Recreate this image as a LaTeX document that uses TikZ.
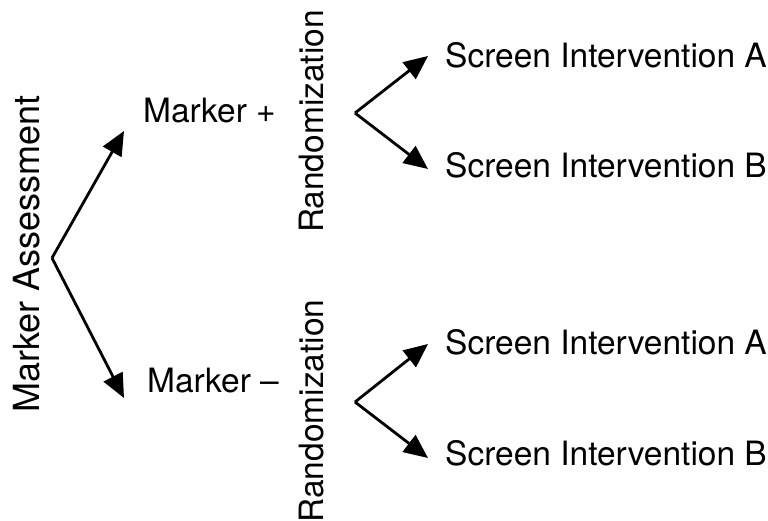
\documentclass[tikz,border=0pt]{standalone}
\usepackage{fontspec}
\setmainfont{TeX Gyre Heros}
\usetikzlibrary{arrows.meta}
\begin{document}
\begin{tikzpicture}[x=1pt,y=-1pt,
  lbl/.style={inner sep=0pt,font=\fontsize{33.5}{40}\selectfont},
  vlbl/.style={lbl,rotate=90,anchor=base},
  hlbl/.style={lbl,anchor=base west},
  arr/.style={line width=2.8pt,-{Triangle[length=24pt,width=21pt]}}]
\useasboundingbox (0,0) rectangle (768,521);
\node[vlbl,font=\fontsize{36}{42}\selectfont] (ma) at (39,254) {Marker Assessment};
\node[hlbl] (mp) at (143,123) {Marker +};
\node[hlbl] (mm) at (147,392) {Marker –};
\node[vlbl] (r1) at (323,121.5) {Randomization};
\node[vlbl] (r2) at (323,411) {Randomization};
\node[hlbl] (sa1) at (445,68) {Screen Intervention A};
\node[hlbl] (sb1) at (445,178) {Screen Intervention B};
\node[hlbl] (sa2) at (445,354) {Screen Intervention A};
\node[hlbl] (sb2) at (445,465) {Screen Intervention B};
\coordinate (v1) at (52,258);
\coordinate (t1) at (124,131);
\coordinate (t2) at (124,398);
\coordinate (v2) at (355,113);
\coordinate (t3) at (428,56);
\coordinate (t4) at (428,169);
\coordinate (v3) at (355,402);
\coordinate (t5) at (428,344);
\coordinate (t6) at (428,458);
\draw[arr] (v1) -- (t1);
\draw[arr] (v1) -- (t2);
\draw[arr] (v2) -- (t3);
\draw[arr] (v2) -- (t4);
\draw[arr] (v3) -- (t5);
\draw[arr] (v3) -- (t6);
\end{tikzpicture}
\end{document}
